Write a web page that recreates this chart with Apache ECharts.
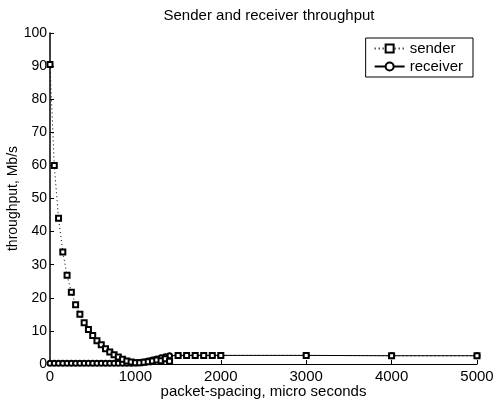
<!DOCTYPE html>
<html>
<head>
<meta charset="utf-8">
<script src="https://cdn.jsdelivr.net/npm/echarts@6/dist/echarts.min.js"></script>
<style>
  html, body { margin: 0; padding: 0; background: #fff; }
  #chart { width: 497px; height: 403px; }
</style>
</head>
<body>
<div id="chart"></div>
<script>
// Packet spacing (micro seconds)
const spacing = [
  0, 50, 100, 150, 200, 250, 300, 350, 400, 450,
  500, 550, 600, 650, 700, 750, 800, 850, 900, 950,
  1000, 1050, 1100, 1150, 1200, 1250, 1300, 1350, 1400,
  1500, 1600, 1700, 1800, 1900, 2000,
  3000, 4000, 5000
];
// Throughput, Mb/s
const sender = [
  90.5, 60, 44, 33.8, 26.8, 21.7, 17.9, 15.0, 12.5, 10.4,
  8.6, 7.0, 5.8, 4.6, 3.6, 2.8, 2.1, 1.4, 0.9, 0.6,
  0.4, 0.4, 0.5, 0.7, 0.9, 1.2, 1.0, 1.6, 0.8,
  2.6, 2.6, 2.6, 2.6, 2.6, 2.6,
  2.6, 2.5, 2.5
];
const receiver = [
  0.2, 0.2, 0.2, 0.2, 0.2, 0.2, 0.2, 0.2, 0.2, 0.2,
  0.2, 0.2, 0.2, 0.2, 0.2, 0.2, 0.2, 0.2, 0.2, 0.2,
  0.3, 0.4, 0.6, 0.9, 1.2, 1.5, 1.9, 2.2, 2.5,
  2.6, 2.6, 2.6, 2.6, 2.6, 2.6,
  2.6, 2.5, 2.5
];
const xTicks = [0, 1000, 2000, 3000, 4000, 5000];
const yTicks = [0, 10, 20, 30, 40, 50, 60, 70, 80, 90, 100];

const font = 'Liberation Sans, Arial, Helvetica, sans-serif';
const pair = (xs, ys) => xs.map((x, i) => [x, ys[i]]);

const chart = echarts.init(document.getElementById('chart'), null, { renderer: 'canvas' });
chart.setOption({
  animation: false,
  backgroundColor: '#fff',
  title: {
    text: 'Sender and receiver throughput',
    left: 264, top: 3, textAlign: 'center',
    textStyle: { fontFamily: font, fontSize: 15, fontWeight: 'normal', color: '#000' }
  },
  legend: {
    right: 24, top: 38,
    orient: 'vertical',
    itemGap: 3,
    itemWidth: 30, itemHeight: 10,
    padding: [3, 10, 3, 8],
    borderColor: '#000', borderWidth: 1,
    backgroundColor: '#fff',
    textStyle: { fontFamily: font, fontSize: 15, color: '#000' },
    data: ['sender', 'receiver']
  },
  grid: { left: 50, right: 20, top: 33, bottom: 39, outerBoundsMode: 'none', containLabel: false },
  xAxis: {
    type: 'value',
    min: xTicks[0], max: xTicks[xTicks.length - 1], interval: 1000,
    name: 'packet-spacing, micro seconds',
    nameLocation: 'middle', nameGap: 20, nameMoveOverlap: false,
    nameTextStyle: { fontFamily: font, fontSize: 15, color: '#000' },
    axisLine: { lineStyle: { color: '#000', width: 1.2 } },
    axisTick: { inside: true, length: 4, lineStyle: { color: '#000' } },
    axisLabel: { fontFamily: font, fontSize: 15, color: '#000', margin: 5, formatter: v => String(v) },
    splitLine: { show: false }
  },
  yAxis: {
    type: 'value',
    min: yTicks[0], max: yTicks[yTicks.length - 1], interval: 10,
    name: 'throughput, Mb/s',
    nameLocation: 'middle', nameGap: 30, nameMoveOverlap: false,
    nameTextStyle: { fontFamily: font, fontSize: 14, color: '#000' },
    axisLine: { show: true, lineStyle: { color: '#000', width: 1.5 } },
    axisTick: { show: true, inside: true, length: 4, lineStyle: { color: '#000' } },
    axisLabel: { fontFamily: font, fontSize: 14, color: '#000', margin: 3, formatter: v => String(v) },
    splitLine: { show: false }
  },
  series: [
    {
      name: 'sender', type: 'line',
      data: pair(spacing, sender),
      symbol: 'emptyRect', symbolSize: 5,
      lineStyle: { color: '#000', width: 1, type: [1, 3] },
      itemStyle: { color: '#000', borderColor: '#000', borderWidth: 0.8 },
      z: 3
    },
    {
      name: 'receiver', type: 'line',
      data: pair(spacing, receiver),
      symbol: 'emptyCircle', symbolSize: 5,
      lineStyle: { color: '#000', width: 1 },
      itemStyle: { color: '#000', borderColor: '#000', borderWidth: 0.8 },
      z: 2
    }
  ]
});
</script>
</body>
</html>
